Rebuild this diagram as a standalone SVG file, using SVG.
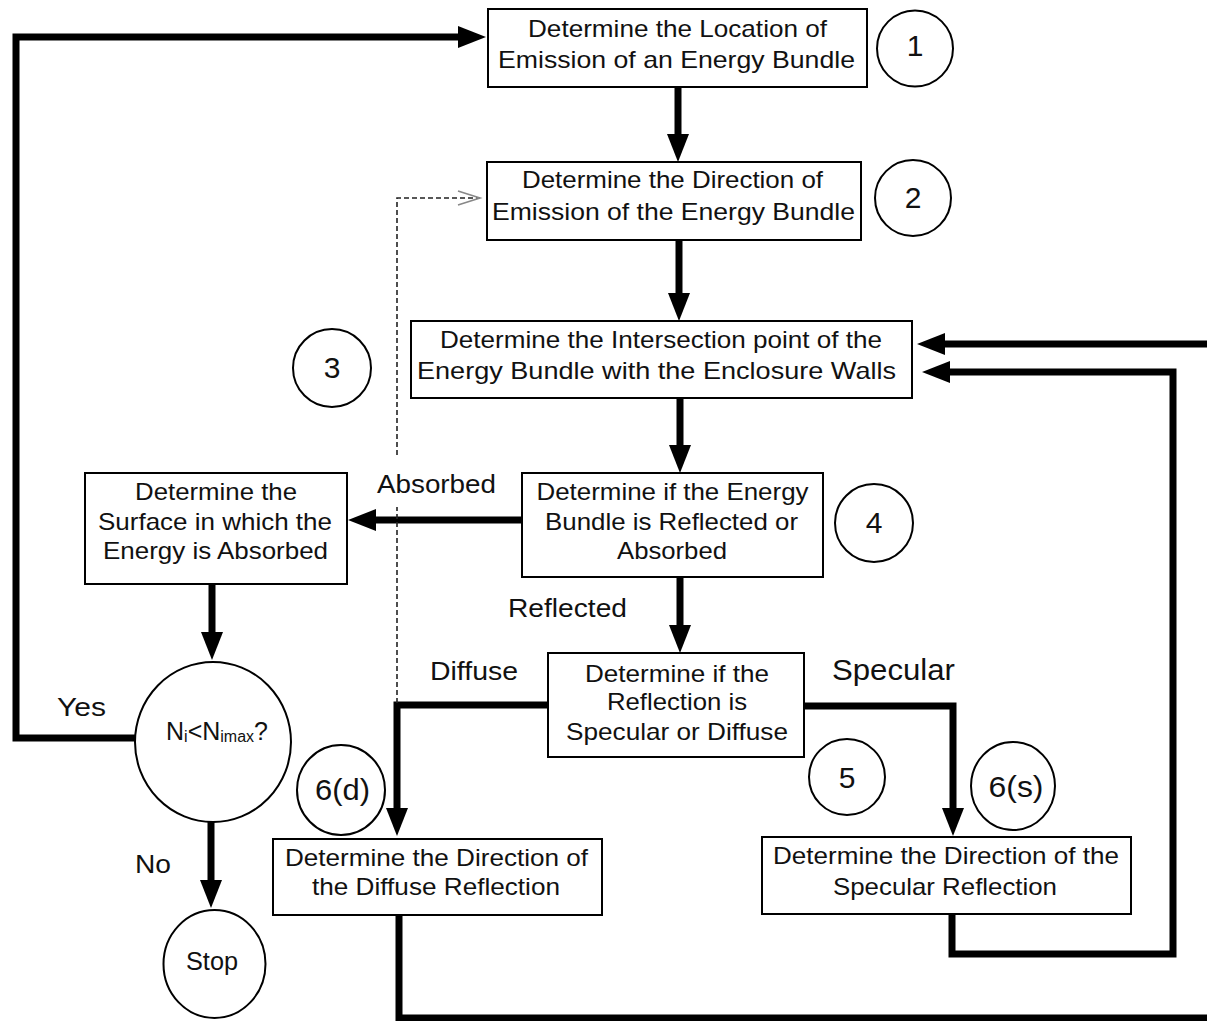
<svg xmlns="http://www.w3.org/2000/svg" width="1207" height="1021" viewBox="0 0 1207 1021">
<style>
  .box{fill:#fff;stroke:#000;stroke-width:2}
  .circ{fill:#fff;stroke:#000;stroke-width:2}
  text{font-family:"Liberation Sans",Arial,Helvetica,sans-serif;fill:#111;text-anchor:middle}
  .t{font-size:24px}
  .lbl{font-size:26px}
  .num{font-size:30px}
  .conn{fill:none;stroke:#000;stroke-width:7;stroke-linejoin:miter}
  .dash{fill:none;stroke:#222;stroke-width:1.6;stroke-dasharray:5,3}
</style>
<defs>
  <marker id="arr" markerUnits="userSpaceOnUse" markerWidth="30" markerHeight="24" refX="8" refY="11" orient="auto">
    <path d="M0,0 L28,11 L0,22 z" fill="#000"/>
  </marker>
  <marker id="open" markerUnits="userSpaceOnUse" markerWidth="26" markerHeight="18" refX="23" refY="8" orient="auto">
    <path d="M1,1 L23,8 L1,15" fill="none" stroke="#888" stroke-width="1.6"/>
  </marker>
</defs>

<g id="connectors">
  <path class="conn" d="M135,738 H16 V37 H466" marker-end="url(#arr)"/>
  <path class="conn" d="M678,87 V142" marker-end="url(#arr)"/>
  <path class="conn" d="M679,240 V301" marker-end="url(#arr)"/>
  <path class="conn" d="M680,398 V453" marker-end="url(#arr)"/>
  <path class="conn" d="M522,520 H368" marker-end="url(#arr)"/>
  <path class="conn" d="M212,584 V640" marker-end="url(#arr)"/>
  <path class="conn" d="M211,822 V888" marker-end="url(#arr)"/>
  <path class="conn" d="M680,577 V633" marker-end="url(#arr)"/>
  <path class="conn" d="M548,705 H397 V816" marker-end="url(#arr)"/>
  <path class="conn" d="M804,706 H953 V816" marker-end="url(#arr)"/>
  <path class="conn" d="M952,914 V954 H1173 V372 H942" marker-end="url(#arr)"/>
  <path class="conn" d="M1207,344 H937" marker-end="url(#arr)"/>
  <path class="conn" d="M399,915 V1018 H1207"/>
  <path class="dash" d="M397,703 V507"/>
  <path class="dash" d="M397,455 V198 H480" marker-end="url(#open)"/>
</g>

<g id="n1">
  <rect class="box" x="488" y="9" width="379" height="78"/>
  <text class="t" x="677.5" y="37" textLength="299" lengthAdjust="spacingAndGlyphs">Determine the Location of</text>
  <text class="t" x="676.5" y="68" textLength="357" lengthAdjust="spacingAndGlyphs">Emission of an Energy Bundle</text>
</g>
<g id="c1">
  <circle class="circ" cx="915" cy="48.5" r="38"/>
  <text class="num" x="915" y="56">1</text>
</g>

<g id="n2">
  <rect class="box" x="487" y="162" width="374" height="78"/>
  <text class="t" x="672.5" y="188" textLength="301" lengthAdjust="spacingAndGlyphs">Determine the Direction of</text>
  <text class="t" x="673.5" y="220" textLength="363" lengthAdjust="spacingAndGlyphs">Emission of the Energy Bundle</text>
</g>
<g id="c2">
  <circle class="circ" cx="913" cy="198" r="38"/>
  <text class="num" x="913" y="208">2</text>
</g>

<g id="n3">
  <rect class="box" x="411" y="321" width="501" height="77"/>
  <text class="t" x="661" y="348" textLength="442" lengthAdjust="spacingAndGlyphs">Determine the Intersection point of the</text>
  <text class="t" x="656.5" y="379" textLength="479" lengthAdjust="spacingAndGlyphs">Energy Bundle with the Enclosure Walls</text>
</g>
<g id="c3">
  <circle class="circ" cx="332" cy="368" r="39"/>
  <text class="num" x="332" y="378">3</text>
</g>

<g id="n4">
  <rect class="box" x="522" y="473" width="301" height="104"/>
  <text class="t" x="672.5" y="500" textLength="272" lengthAdjust="spacingAndGlyphs">Determine if the Energy</text>
  <text class="t" x="671.5" y="530" textLength="253" lengthAdjust="spacingAndGlyphs">Bundle is Reflected or</text>
  <text class="t" x="672" y="559" textLength="110" lengthAdjust="spacingAndGlyphs">Absorbed</text>
</g>
<g id="c4">
  <circle class="circ" cx="874" cy="523" r="39"/>
  <text class="num" x="874" y="533">4</text>
</g>

<g id="n-surface">
  <rect class="box" x="85" y="473" width="262" height="111"/>
  <text class="t" x="216" y="500" textLength="162" lengthAdjust="spacingAndGlyphs">Determine the</text>
  <text class="t" x="215" y="530" textLength="234" lengthAdjust="spacingAndGlyphs">Surface in which the</text>
  <text class="t" x="215.5" y="559" textLength="225" lengthAdjust="spacingAndGlyphs">Energy is Absorbed</text>
</g>

<g id="n-check">
  <ellipse class="circ" cx="213" cy="742" rx="78" ry="80"/>
  <text x="166" y="740" style="text-anchor:start;font-size:25px">N<tspan style="font-size:16px" dy="2">i</tspan><tspan dy="-2">&lt;N</tspan><tspan style="font-size:16px" dy="2">imax</tspan><tspan dy="-2">?</tspan></text>
</g>

<g id="n-stop">
  <ellipse class="circ" cx="214.5" cy="964" rx="51" ry="54"/>
  <text x="212" y="970" style="font-size:25px" textLength="52" lengthAdjust="spacingAndGlyphs">Stop</text>
</g>

<g id="n5">
  <rect class="box" x="548" y="653" width="256" height="104"/>
  <text class="t" x="677" y="682" textLength="184" lengthAdjust="spacingAndGlyphs">Determine if the</text>
  <text class="t" x="677" y="710" textLength="140" lengthAdjust="spacingAndGlyphs">Reflection is</text>
  <text class="t" x="677" y="740" textLength="222" lengthAdjust="spacingAndGlyphs">Specular or Diffuse</text>
</g>
<g id="c5">
  <circle class="circ" cx="847" cy="777" r="38"/>
  <text class="num" x="847" y="788">5</text>
</g>

<g id="n6s">
  <rect class="box" x="762" y="837" width="369" height="77"/>
  <text class="t" x="946" y="864" textLength="346" lengthAdjust="spacingAndGlyphs">Determine the Direction of the</text>
  <text class="t" x="945" y="895" textLength="224" lengthAdjust="spacingAndGlyphs">Specular Reflection</text>
</g>
<g id="c6s">
  <ellipse class="circ" cx="1013" cy="786" rx="42" ry="44"/>
  <text class="num" x="1016" y="797" textLength="55" lengthAdjust="spacingAndGlyphs">6(s)</text>
</g>

<g id="n6d">
  <rect class="box" x="273" y="839" width="329" height="76"/>
  <text class="t" x="436.5" y="866" textLength="303" lengthAdjust="spacingAndGlyphs">Determine the Direction of</text>
  <text class="t" x="436" y="895" textLength="248" lengthAdjust="spacingAndGlyphs">the Diffuse Reflection</text>
</g>
<g id="c6d">
  <ellipse class="circ" cx="341" cy="790" rx="44" ry="45"/>
  <text class="num" x="342.5" y="800" textLength="55" lengthAdjust="spacingAndGlyphs">6(d)</text>
</g>

<g id="labels">
  <text class="lbl" x="436.5" y="493" textLength="119" lengthAdjust="spacingAndGlyphs">Absorbed</text>
  <text class="lbl" x="567.5" y="617" textLength="119" lengthAdjust="spacingAndGlyphs">Reflected</text>
  <text class="lbl" x="474" y="680" textLength="88" lengthAdjust="spacingAndGlyphs">Diffuse</text>
  <text class="lbl" x="893.5" y="680" style="font-size:29px" textLength="123" lengthAdjust="spacingAndGlyphs">Specular</text>
  <text class="lbl" x="81.5" y="716" textLength="49" lengthAdjust="spacingAndGlyphs">Yes</text>
  <text class="lbl" x="153" y="873" textLength="36" lengthAdjust="spacingAndGlyphs">No</text>
</g>
</svg>
